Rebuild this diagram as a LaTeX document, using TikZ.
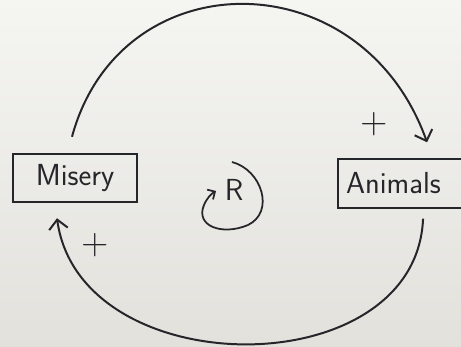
\documentclass[tikz,border=0pt]{standalone}
\usepackage{xcolor}
\usetikzlibrary{arrows.meta}
\definecolor{ink}{RGB}{38,38,42}
\definecolor{paperTop}{RGB}{245,245,242}
\definecolor{paperBot}{RGB}{226,225,220}

\begin{document}
\begin{tikzpicture}[x=0.03cm, y=-0.03cm, >={Straight Barb[length=2.8mm, width=5.6mm]}, every node/.style={font=\sffamily\fontsize{26}{30}\selectfont, text=ink}, var/.style={draw=ink, line width=1.8pt, minimum height=1.45cm}, sign/.style={font=\sffamily\fontsize{32}{34}\selectfont}]
  \shade[top color=paperTop, bottom color=paperBot] (0,0) rectangle (461,347);
  \useasboundingbox (0,0) rectangle (461,347);
  \node[var, minimum width=3.72cm] (misery) at (75,178) {Misery};
  \node[var, anchor=west, text width=3.9cm, inner xsep=0.24cm, align=left] (animals) at (337,183.5) {Animals};
  \node (loopR) at (234,190) {R};
  \node[sign] (plusTop) at (374,124) {+};
  \node[sign] (plusBot) at (95,245) {+};
  \draw[->, draw=ink, line width=1.7pt] ([shift={(-3,-16)}]misery.north) .. controls +(48,-177) and +(-66,-184) .. ([shift={(16,-16)}]animals.north);
  \draw[->, draw=ink, line width=1.7pt] ([shift={(12,10)}]animals.south) .. controls +(-7,168) and +(23,167) .. ([shift={(-18,15)}]misery.south);
  \draw[-{Straight Barb[length=1.7mm, width=3.4mm]}, draw=ink, line width=1.5pt] (232,162) .. controls (262,170) and (275,212) .. (248,225) .. controls (222,236) and (195,226) .. (204,205) .. controls (207,198) and (211,194) .. (216,191);
\end{tikzpicture}
\end{document}
